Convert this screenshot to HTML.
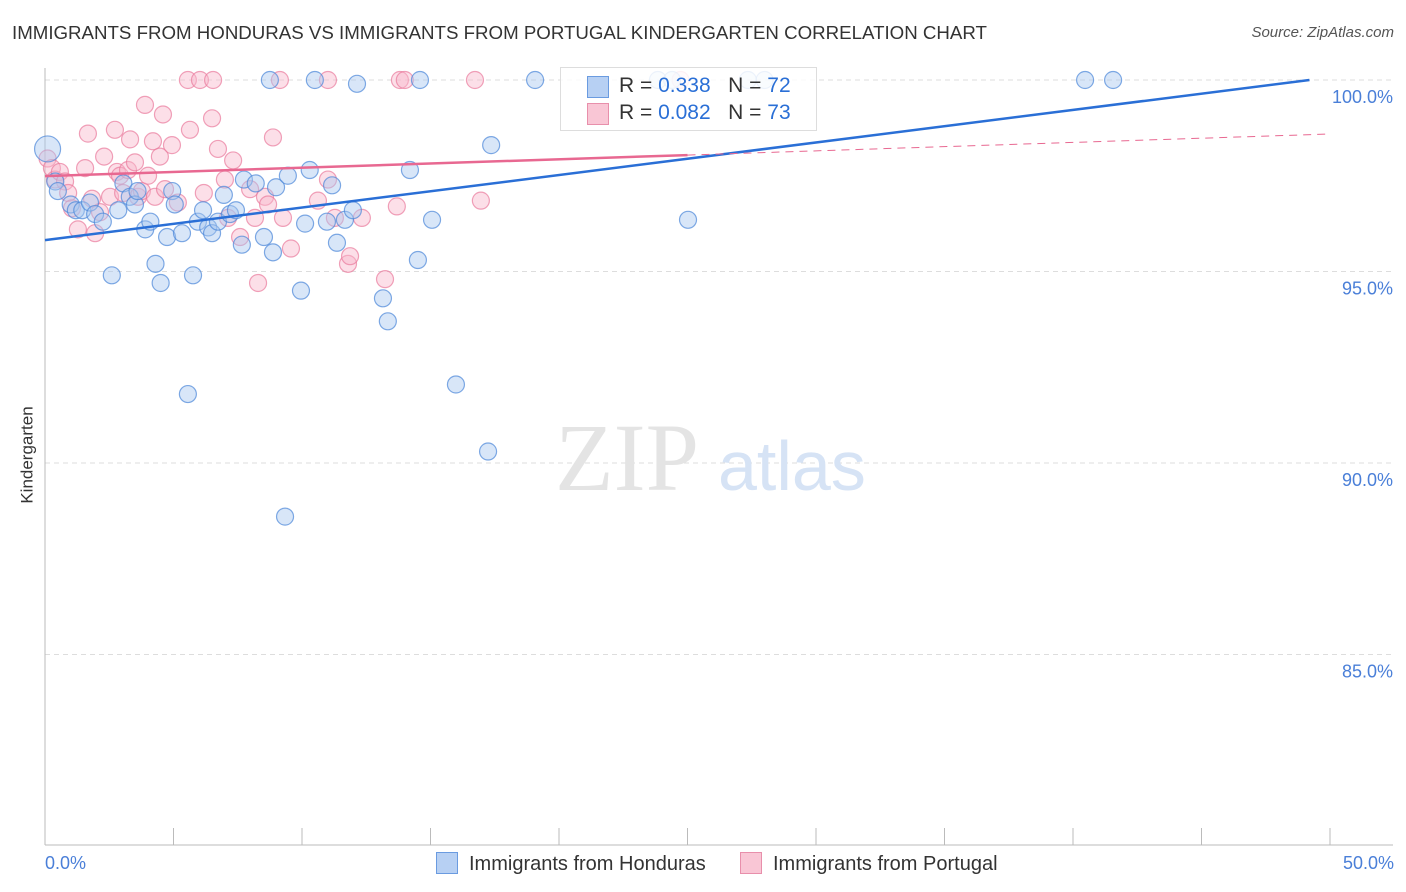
<!DOCTYPE html>
<html><head><meta charset="utf-8">
<style>
body{margin:0;background:#fff;font-family:"Liberation Sans",sans-serif;}
#wrap{position:relative;width:1406px;height:892px;overflow:hidden;}
.t{position:absolute;white-space:nowrap;}
</style></head>
<body>
<div id="wrap">
<div class="t" style="left:12px;top:22px;font-size:18.7px;color:#333;">IMMIGRANTS FROM HONDURAS VS IMMIGRANTS FROM PORTUGAL KINDERGARTEN CORRELATION CHART</div>
<div class="t" style="right:12px;top:24px;font-size:15px;color:#555;font-style:italic;">Source: ZipAtlas.com</div>
<svg id="plot" width="1406" height="892" style="position:absolute;left:0;top:0"></svg>
</div>
<script>
const blueX=[0.1,0.4,0.5,1.0,1.2,1.45,1.75,1.95,2.25,2.6,2.85,3.05,3.3,3.5,3.6,3.9,4.1,4.3,4.5,4.75,4.95,5.05,5.33,5.76,5.56,5.95,6.15,6.35,6.5,6.73,6.96,7.2,7.43,7.66,7.74,8.2,8.52,8.75,8.87,8.99,9.34,9.45,9.96,10.12,10.3,10.5,10.97,11.17,11.36,11.67,11.98,12.14,13.15,13.34,14.2,14.51,14.59,15.06,15.99,17.24,17.36,19.07,25.02,40.47,41.56,23.85,24.4,27.35,28.0];
const blueY=[98.2,97.35,97.1,96.75,96.6,96.6,96.8,96.5,96.3,94.9,96.6,97.3,96.95,96.75,97.1,96.1,96.3,95.2,94.7,95.9,97.1,96.75,96.0,94.9,91.8,96.3,96.6,96.15,96.0,96.3,97.0,96.5,96.6,95.7,97.4,97.3,95.9,100.0,95.5,97.2,88.6,97.5,94.5,96.25,97.65,100.0,96.3,97.25,95.75,96.35,96.6,99.9,94.3,93.7,97.65,95.3,100.0,96.35,92.05,90.3,98.3,100.0,96.35,100.0,100.0,100.0,100.0,100.0,100.0];
const pinkX=[0.1,0.27,0.39,0.58,0.78,0.9,1.05,1.28,1.56,1.67,1.83,1.95,2.14,2.30,2.53,2.72,2.8,2.92,3.04,3.23,3.31,3.5,3.62,3.77,3.89,4.01,4.2,4.28,4.47,4.59,4.67,4.94,5.17,5.56,5.64,6.03,6.18,6.5,6.54,6.73,7.0,7.12,7.32,7.59,7.98,8.17,8.29,8.56,8.68,8.87,9.14,9.26,9.57,10.62,11.01,11.01,11.28,11.79,11.87,12.33,13.23,13.69,13.81,14.0,16.73,16.96,24.73];
const pinkY=[97.95,97.7,97.4,97.6,97.35,97.05,96.65,96.1,97.7,98.6,96.9,96.0,96.55,98.0,96.95,98.7,97.6,97.5,97.05,97.65,98.45,97.85,96.95,97.1,99.35,97.5,98.4,96.95,98.0,99.1,97.15,98.3,96.8,100.0,98.7,100.0,97.05,99.0,100.0,98.2,97.4,96.4,97.9,95.9,97.15,96.4,94.7,96.95,96.75,98.5,100.0,96.4,95.6,96.85,100.0,97.4,96.4,95.2,95.4,96.4,94.8,96.7,100.0,100.0,100.0,96.85,100.0];
const yTicks=[100,95,90,85];
const yTickLabels=["100.0%","95.0%","90.0%","85.0%"];
const xTickVals=[0,5,10,15,20,25,30,35,40,45,50];
const blueTrend=[95.82,100.0];
const pinkTrend=[97.49,98.59];

const NS="http://www.w3.org/2000/svg";
const svg=document.getElementById('plot');
const X=v=>45+v*25.7, Y=v=>80+(100-v)*38.3;
function mk(t,a){const e=document.createElementNS(NS,t);for(const k in a)e.setAttribute(k,a[k]);svg.appendChild(e);return e;}
yTicks.forEach((v,i)=>{
 const g=mk('line',{x1:45,x2:1393,y1:Y(v),y2:Y(v),stroke:'#ddd','stroke-dasharray':'5,4'});
 
 
 const t=mk('text',{x:1393,y:Y(v)+23,'text-anchor':'end','font-size':18,fill:'#4a7fd8'});
 t.textContent=yTickLabels[i];
 
 
});
const ax=mk('line',{x1:45,x2:45,y1:68,y2:845,stroke:'#bbb'});


const bx=mk('line',{x1:45,x2:1393,y1:845,y2:845,stroke:'#bbb'});


xTickVals.forEach(v=>{
 const l=mk('line',{x1:X(v),x2:X(v),y1:828,y2:845,stroke:'#bbb'});
 
 
});
const wm=mk('text',{x:555,y:490,'font-size':96,fill:'#e4e4e4','font-family':'Liberation Serif, serif'});wm.textContent='ZIP';


const wm2=mk('text',{x:718,y:490,'font-size':70,fill:'#d6e3f5'});wm2.textContent='atlas';


function pts(xs,ys,fill,stroke,name){xs.forEach((x,i)=>{
 const c=mk('circle',{cx:X(x),cy:Y(ys[i]),r:(name==='honduras-point'&&i===0)?13:8.5,fill:fill,'fill-opacity':0.45,stroke:stroke,'stroke-opacity':0.7,'stroke-width':1.2});
 
 
});}
pts(pinkX,pinkY,'#f9b8cc','#e97a9c','portugal-point');
pts(blueX,blueY,'#a9c8f0','#4a86d8','honduras-point');
const bl=mk('line',{x1:X(0),y1:Y(blueTrend[0]),x2:X(49.2),y2:Y(blueTrend[1]),stroke:'#2a6fd6','stroke-width':2.5});


const pm=pinkTrend[0]+(pinkTrend[1]-pinkTrend[0])*25/50;
const pl=mk('line',{x1:X(0),y1:Y(pinkTrend[0]),x2:X(25),y2:Y(pm),stroke:'#e86891','stroke-width':2.5});


const pd=mk('line',{x1:X(25),y1:Y(pm),x2:X(50),y2:Y(pinkTrend[1]),stroke:'#e86891','stroke-width':1,'stroke-dasharray':'8,6'});


</script>
<div class="t" style="left:-21px;top:445px;font-size:17px;color:#333;transform:rotate(-90deg);">Kindergarten</div>
<div class="t" style="left:45px;top:853px;font-size:18px;color:#4a7fd8;">0.0%</div>
<div class="t" style="right:12px;top:853px;font-size:18px;color:#4a7fd8;">50.0%</div>
<div style="position:absolute;left:560px;top:67px;width:255px;height:62px;border:1px solid #ddd;background:rgba(255,255,255,0.85);font-size:21px;">
 <div style="position:absolute;left:26px;top:8px;width:20px;height:20px;background:#b7d0f3;border:1px solid #6a9be0;"></div>
 <div class="t" style="left:58px;top:6px;color:#333;">R = <span style="color:#2a6fd6">0.338</span>&nbsp;&nbsp;&nbsp;N = <span style="color:#2a6fd6">72</span></div>
 <div style="position:absolute;left:26px;top:35px;width:20px;height:20px;background:#f9c6d5;border:1px solid #e88fab;"></div>
 <div class="t" style="left:58px;top:33px;color:#333;">R = <span style="color:#2a6fd6">0.082</span>&nbsp;&nbsp;&nbsp;N = <span style="color:#2a6fd6">73</span></div>
</div>
<div style="position:absolute;left:436px;top:852px;font-size:20px;color:#333;">
 <div style="position:absolute;left:0;top:0;white-space:nowrap;"><span style="display:inline-block;width:20px;height:20px;background:#b7d0f3;border:1px solid #6a9be0;vertical-align:-4px;margin-right:11px;"></span>Immigrants from Honduras</div>
 <div style="position:absolute;left:304px;top:0;white-space:nowrap;"><span style="display:inline-block;width:20px;height:20px;background:#f9c6d5;border:1px solid #e88fab;vertical-align:-4px;margin-right:11px;"></span>Immigrants from Portugal</div>
</div>
</body></html>
